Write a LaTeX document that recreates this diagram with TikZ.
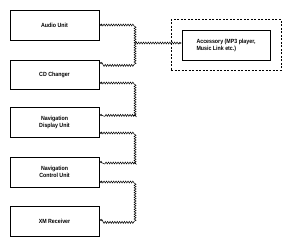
\documentclass[tikz,border=0pt]{standalone}
\usepackage{fontspec}
\newfontfamily\narrowsans[FakeStretch=0.88]{Liberation Sans}
\usetikzlibrary{decorations.pathmorphing,arrows.meta,fit}
\begin{document}
\begin{tikzpicture}[x=1pt,y=-1pt,
  box/.style={draw, line width=0.8pt, minimum width=89pt, minimum height=30pt, inner sep=0pt,
    align=center, font=\narrowsans\bfseries\fontsize{6}{7}\selectfont},
  wavy/.style={draw, line width=0.5pt, decorate,
    decoration={snake, amplitude=1pt, segment length=2.4pt, pre length=1.5pt, post length=1.5pt}},
  both/.style={{Stealth[length=2.5pt,width=2.2pt]}-{Stealth[length=2.5pt,width=2.2pt]}},
  one/.style={-{Stealth[length=2.5pt,width=2.2pt]}}]
\useasboundingbox (0,0) rectangle (292,246);
\node[box] (au) at (54.5,25) {Audio Unit};
\node[box, minimum height=29pt] (cd) at (54.5,74.5) {CD Changer};
\node[box] (nd) at (54.5,122) {Navigation\\Display Unit};
\node[box] (nc) at (54.5,172) {Navigation\\Control Unit};
\node[box] (xm) at (54.5,221) {XM Receiver};
\node[draw, line width=0.8pt, minimum width=88pt, minimum height=30pt, inner sep=0pt,
  align=left, font=\narrowsans\bfseries\fontsize{6}{7}\selectfont] (acc) at (226,45)
  {Accessory (MP3 player,\\Music Link etc.)};
\node[draw, dashed, line width=0.6pt, dash pattern=on 2pt off 1.5pt, fit=(acc), inner xsep=10.5pt, inner ysep=10pt] (grp) {};
\coordinate (j) at (134,43);
\coordinate (b1) at (134,25);
\coordinate (b2) at (134,83);
\coordinate (b3) at (134,133);
\coordinate (b4) at (134,182);
\draw[wavy, both] (au.east) -- (b1) |- ([yshift=11.5pt]cd.east);
\draw[wavy, one] (j) -- (j -| acc.west);
\draw[wavy, both] ([yshift=-8.5pt]cd.east) -- (b2) |- ([yshift=7pt]nd.east);
\draw[wavy, both] ([yshift=-11pt]nd.east) -- (b3) |- ([yshift=10pt]nc.east);
\draw[wavy, both] ([yshift=-10pt]nc.east) -- (b4) |- ([yshift=1pt]xm.east);
\end{tikzpicture}
\end{document}
